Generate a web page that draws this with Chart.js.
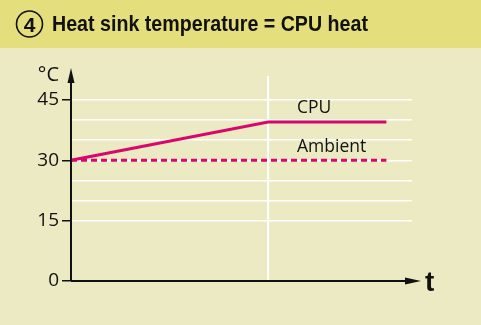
<!DOCTYPE html>
<html>
<head>
<meta charset="utf-8">
<script src="https://cdn.jsdelivr.net/npm/chart.js@4/dist/chart.umd.min.js"></script>
<style>
  html, body { margin: 0; padding: 0; background: #ebeac2; }
  canvas { display: block; }
</style>
</head>
<body>
<canvas id="c" width="481" height="325"></canvas>
<script>
// Time points (arbitrary units) and temperatures in °C
const timeSteps = [0, 5, 8];
const cpuTemp = [30, 39.5, 39.5];
const ambientTemp = [30, 30, 30];
const yTickLabels = [0, 15, 30, 45];
const levelOffTime = 5;          // moment the heat sink stops warming
const seriesNames = ['CPU', 'Ambient'];
const titleText = 'Heat sink temperature = CPU heat';

const MAGENTA = '#d9076d';
const BAND = '#e4df7c';
const BG = '#ebeac2';
const INK = '#111111';
const LABEL_FONT = '"Open Sans", "Liberation Sans", sans-serif';

const toPoints = (ys) => timeSteps.map((t, i) => ({ x: t, y: ys[i] }));

const decor = {
  id: 'decor',
  beforeDraw(chart) {
    const { ctx } = chart;
    ctx.save();
    ctx.fillStyle = BG;
    ctx.fillRect(0, 0, chart.width, chart.height);
    ctx.fillStyle = BAND;
    ctx.fillRect(0, 0, chart.width, 48);
    ctx.restore();
  },
  beforeDatasetsDraw(chart) {
    const { ctx, scales: { x, y } } = chart;
    const px = x.getPixelForValue(levelOffTime);
    ctx.save();
    ctx.strokeStyle = '#ffffff';
    ctx.lineWidth = 2;
    ctx.beginPath();
    ctx.moveTo(px, y.getPixelForValue(51));
    ctx.lineTo(px, y.getPixelForValue(0));
    ctx.stroke();
    ctx.restore();
  },
  afterDraw(chart) {
    const { ctx, scales: { x, y } } = chart;
    const x0 = x.getPixelForValue(0);
    const y0 = y.getPixelForValue(0);
    ctx.save();

    // axes with arrow heads
    ctx.strokeStyle = INK;
    ctx.fillStyle = INK;
    ctx.lineWidth = 2;
    ctx.beginPath();
    ctx.moveTo(x0, y0);
    ctx.lineTo(x0, 80);
    ctx.moveTo(x0, y0);
    ctx.lineTo(407, y0);
    ctx.stroke();
    ctx.beginPath();
    ctx.moveTo(x0, 68);
    ctx.lineTo(x0 - 3.5, 83);
    ctx.lineTo(x0 + 3.5, 83);
    ctx.closePath();
    ctx.fill();
    ctx.beginPath();
    ctx.moveTo(421, y0);
    ctx.lineTo(405, y0 - 3.5);
    ctx.lineTo(405, y0 + 3.5);
    ctx.closePath();
    ctx.fill();

    // axis captions
    ctx.font = '20px ' + LABEL_FONT;
    ctx.textBaseline = 'alphabetic';
    ctx.textAlign = 'right';
    ctx.fillText('°C', 59, 81);
    ctx.textAlign = 'left';
    ctx.font = 'bold 28px "Liberation Sans", Arial, sans-serif';
    ctx.fillText('t', 425, 291);

    // series labels
    ctx.font = '17.5px ' + LABEL_FONT;
    ctx.fillText(seriesNames[0], 297, 113);
    ctx.fillText(seriesNames[1], 297, 152);

    // heading: circled number + title
    ctx.lineWidth = 1.6;
    ctx.beginPath();
    ctx.arc(29.5, 24, 13, 0, Math.PI * 2);
    ctx.stroke();
    ctx.textAlign = 'center';
    ctx.font = 'bold 21px "Liberation Sans", sans-serif';
    ctx.fillText('4', 29.5, 31.5);

    ctx.textAlign = 'left';
    ctx.font = 'bold 22px "Liberation Sans Narrow", "Liberation Sans", sans-serif';
    const w = ctx.measureText(titleText).width;
    const target = 316;
    ctx.translate(52, 31);
    ctx.scale(target / w, 1);
    ctx.fillText(titleText, 0, 0);
    ctx.restore();
  }
};

new Chart(document.getElementById('c'), {
  type: 'line',
  data: {
    datasets: [
      {
        label: seriesNames[0],
        data: toPoints(cpuTemp),
        borderColor: MAGENTA,
        borderWidth: 3,
        pointRadius: 0,
        tension: 0,
        clip: false
      },
      {
        label: seriesNames[1],
        data: toPoints(ambientTemp),
        borderColor: MAGENTA,
        borderWidth: 3,
        borderDash: [6, 4],
        pointRadius: 0,
        tension: 0,
        clip: false
      }
    ]
  },
  options: {
    responsive: false,
    animation: false,
    devicePixelRatio: 1,
    layout: { padding: { top: 100, right: 69, bottom: 44, left: 0 } },
    plugins: { legend: { display: false }, tooltip: { enabled: false } },
    scales: {
      x: { type: 'linear', min: 0, max: 8.65, display: false },
      y: {
        min: 0,
        max: 45,
        afterFit(scale) { scale.width = 71; },
        border: { display: false },
        ticks: {
          stepSize: 5,
          autoSkip: false,
          padding: 3,
          color: INK,
          font: { family: '"Open Sans", "Liberation Sans", sans-serif', size: 19 },
          callback: (v) => (yTickLabels.includes(v) ? String(v) : '')
        },
        grid: {
          lineWidth: 1.5,
          tickLength: 9,
          tickWidth: 1.5,
          color: (c) => (c.tick && c.tick.value >= 15 ? '#ffffff' : 'rgba(0,0,0,0)'),
          tickColor: (c) => (c.tick && yTickLabels.includes(c.tick.value) ? INK : 'rgba(0,0,0,0)')
        }
      }
    }
  },
  plugins: [decor]
});
</script>
</body>
</html>
